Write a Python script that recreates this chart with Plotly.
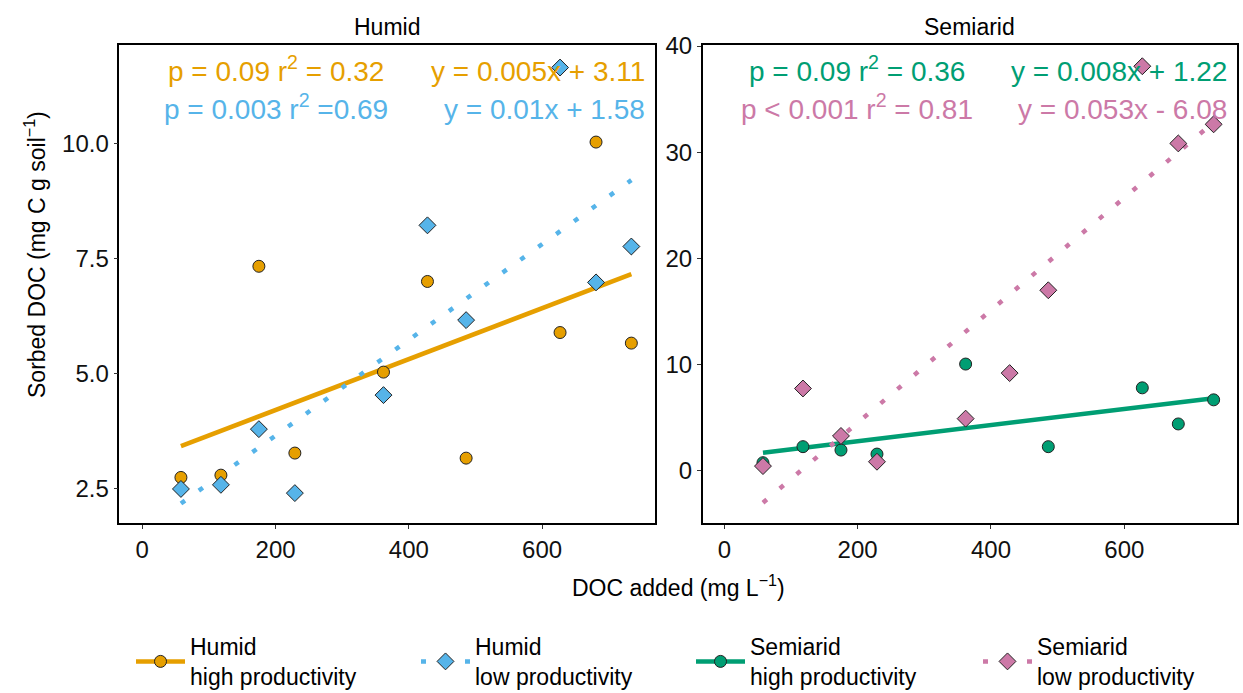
import numpy as np
import plotly.graph_objects as go

# ---------------- data ----------------
doc_added = [58, 118, 175, 229, 362, 428, 486, 627, 681, 734]

humid_high = [2.75, 2.80, 7.34, 3.28, 5.04, 7.01, 3.17, 5.90, 10.04, 5.67]
humid_low = [2.50, 2.59, 3.80, 2.41, 4.54, 8.23, 6.17, 11.66, 6.99, 7.77]
semi_high = [0.76, 2.27, 1.95, 1.57, 10.05, None, 2.27, 7.81, 4.41, 6.68]
semi_low = [0.44, 7.75, 3.28, 0.85, 4.91, 9.20, 17.0, 38.1, 30.83, 32.63]

# fitted lines (slope, intercept) as drawn
fit_humid_high = (0.00553, 3.11)
fit_humid_low = (0.0104, 1.58)
fit_semi_high = (0.0076, 1.26)
fit_semi_low = (0.053, -6.08)

series_names = ["Humid<br>high productivity", "Humid<br>low productivity",
                "Semiarid<br>high productivity", "Semiarid<br>low productivity"]

stats_humid = ["p = 0.09 r<sup>2</sup> = 0.32", "p = 0.003 r<sup>2</sup> =0.69"]
eq_humid = ["y = 0.005x + 3.11", "y = 0.01x + 1.58"]
stats_semi = ["p = 0.09 r<sup>2</sup> = 0.36", "p &lt; 0.001 r<sup>2</sup> = 0.81"]
eq_semi = ["y = 0.008x + 1.22", "y = 0.053x - 6.08"]

# ---------------- styles ----------------
ORANGE = "#E69F00"
BLUE = "#56B4E9"
GREEN = "#009E73"
PINK = "#CC79A7"
FONT = "Liberation Sans, Arial, sans-serif"
W, H = 1243, 693
DOT = "5px,17px"

fig = go.Figure()

xs = np.array(doc_added, dtype=float)
xfit = np.linspace(xs.min(), xs.max(), 50)

specs = [
    (humid_high, fit_humid_high, ORANGE, "solid", "circle", 12, "x", "y"),
    (humid_low, fit_humid_low, BLUE, DOT, "diamond", 13, "x", "y"),
    (semi_high, fit_semi_high, GREEN, "solid", "circle", 12, "x2", "y2"),
    (semi_low, fit_semi_low, PINK, DOT, "diamond", 13, "x2", "y2"),
]

# fit lines first
for ys, fit, color, dash, symbol, msize, xa, ya in specs:
    slope, icpt = fit
    fig.add_trace(go.Scatter(
        x=xfit, y=slope * xfit + icpt, mode="lines", xaxis=xa, yaxis=ya,
        line=dict(color=color, width=4.5, dash=dash), showlegend=False,
        hoverinfo="skip"))
# points on top
for i, (ys, fit, color, dash, symbol, msize, xa, ya) in enumerate(specs):
    fig.add_trace(go.Scatter(
        x=doc_added, y=ys, mode="markers", xaxis=xa, yaxis=ya,
        marker=dict(color=color, symbol=symbol, size=msize,
                    line=dict(color="#222222", width=1)),
        showlegend=False, name=series_names[i]))

# legend-only entries, one legend each for exact placement
legend_ids = ["legend", "legend2", "legend3", "legend4"]
for i, (ys, fit, color, dash, symbol, msize, xa, ya) in enumerate(specs):
    fig.add_trace(go.Scatter(
        x=[None], y=[None], mode="lines+markers", name=series_names[i],
        legend=legend_ids[i],
        line=dict(color=color, width=4.5, dash=dash),
        marker=dict(color=color, symbol=symbol, size=msize,
                    line=dict(color="#222222", width=1))))

# ---------------- layout ----------------
ydom = [1 - 523 / H, 1 - 45 / H]
axis_common = dict(showline=True, linecolor="black", linewidth=1.5, mirror=True,
                   ticks="outside", ticklen=4, tickcolor="#333333", tickwidth=1,
                   showgrid=False, zeroline=False, automargin=False,
                   tickfont=dict(size=24, color="#111111", family=FONT))

legend_x = [131, 416, 691, 978]
legend_common = dict(orientation="h", xanchor="left", xref="container", yref="container",
                     y=1 - 625 / H, yanchor="top", itemwidth=49,
                     font=dict(size=23, family=FONT, color="black"),
                     bgcolor="rgba(0,0,0,0)")

fig.update_layout(
    width=W, height=H, margin=dict(l=0, r=0, t=0, b=0, autoexpand=False),
    paper_bgcolor="white", plot_bgcolor="white",
    font=dict(family=FONT, color="black"),
    xaxis=dict(domain=[119.3 / W, 655 / W], range=[-34.5, 769.5],
               tickvals=[0, 200, 400, 600], anchor="y", **axis_common),
    yaxis=dict(domain=ydom, range=[1.76, 12.15], tickvals=[2.5, 5.0, 7.5, 10.0],
               tickformat=".1f", anchor="x", **axis_common),
    xaxis2=dict(domain=[702.7 / W, 1236.7 / W], range=[-32.4, 768.6],
                tickvals=[0, 200, 400, 600], anchor="y2", **axis_common),
    yaxis2=dict(domain=ydom, range=[-4.92, 40.1], tickvals=[0, 10, 20, 30, 40],
                anchor="x2", **axis_common),
    showlegend=True,
    legend=dict(x=legend_x[0] / W, **legend_common),
    legend2=dict(x=legend_x[1] / W, **legend_common),
    legend3=dict(x=legend_x[2] / W, **legend_common),
    legend4=dict(x=legend_x[3] / W, **legend_common),
)

ann = []
# facet titles
ann.append(dict(text="Humid", x=387 / W, y=1 - 27 / H, xref="paper", yref="paper",
                showarrow=False, font=dict(size=23), xanchor="center", yanchor="middle"))
ann.append(dict(text="Semiarid", x=969.7 / W, y=1 - 27 / H, xref="paper", yref="paper",
                showarrow=False, font=dict(size=23), xanchor="center", yanchor="middle"))
# axis titles
ann.append(dict(text="DOC added (mg L<sup>\u22121</sup>)", x=678 / W, y=1 - 586 / H,
                xref="paper", yref="paper", showarrow=False, font=dict(size=23),
                xanchor="center", yanchor="middle"))
ann.append(dict(text="Sorbed DOC (mg C g soil<sup>\u22121</sup>)", x=35 / W, y=1 - 255 / H,
                xref="paper", yref="paper", showarrow=False, font=dict(size=23),
                textangle=-90, xanchor="center", yanchor="middle"))
# statistics texts (bottom-anchored so baselines align)
rows_y = [1 - 89 / H, 1 - 127 / H]
for i, col in enumerate([ORANGE, BLUE]):
    ann.append(dict(text=stats_humid[i], x=276 / W, y=rows_y[i], xref="paper", yref="paper",
                    showarrow=False, font=dict(size=28, color=col), xanchor="center", yanchor="bottom"))
    ann.append(dict(text=eq_humid[i], x=647 / W, y=rows_y[i], xref="paper", yref="paper",
                    showarrow=False, font=dict(size=28, color=col), xanchor="right", yanchor="bottom"))
for i, col in enumerate([GREEN, PINK]):
    ann.append(dict(text=stats_semi[i], x=857 / W, y=rows_y[i], xref="paper", yref="paper",
                    showarrow=False, font=dict(size=28, color=col), xanchor="center", yanchor="bottom"))
    ann.append(dict(text=eq_semi[i], x=1229 / W, y=rows_y[i], xref="paper", yref="paper",
                    showarrow=False, font=dict(size=28, color=col), xanchor="right", yanchor="bottom"))
fig.update_layout(annotations=ann)

fig.write_html("out.html")
